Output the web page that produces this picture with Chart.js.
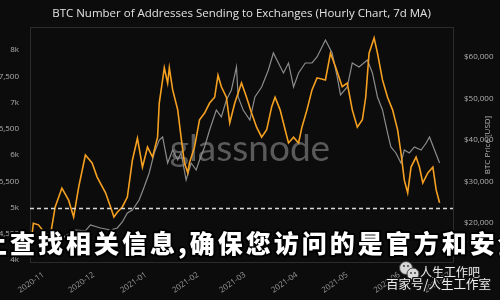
<!DOCTYPE html>
<html>
<head>
<meta charset="utf-8">
<script src="https://cdn.jsdelivr.net/npm/chart.js@4/dist/chart.umd.min.js"></script>
<style>
  html, body { margin: 0; padding: 0; background: #0c0c0c; }
  canvas { display: block; }
</style>
</head>
<body>
<canvas id="chart" width="500" height="300"></canvas>
<script>
// Achsenbereich (Tage)
const firstDay = '2020-10-24'
const lastDay = '2021-07-03'

// Adressen, die an Börsen senden (7d MA)
const addrDates = [
  '2020-10-24', '2020-10-26', '2020-10-29', '2020-11-02', '2020-11-05', '2020-11-08', '2020-11-12',
  '2020-11-16', '2020-11-19', '2020-11-22', '2020-11-26', '2020-11-30', '2020-12-03', '2020-12-08',
  '2020-12-11', '2020-12-13', '2020-12-15', '2020-12-18', '2020-12-21', '2020-12-24', '2020-12-27',
  '2020-12-30', '2021-01-02', '2021-01-05', '2021-01-08', '2021-01-09', '2021-01-11', '2021-01-12',
  '2021-01-14', '2021-01-15', '2021-01-17', '2021-01-20', '2021-01-22', '2021-01-24', '2021-01-26',
  '2021-01-27', '2021-01-30', '2021-02-02', '2021-02-05', '2021-02-08', '2021-02-11', '2021-02-13',
  '2021-02-15', '2021-02-18', '2021-02-20', '2021-02-23', '2021-02-27', '2021-03-02', '2021-03-05',
  '2021-03-08', '2021-03-11', '2021-03-14', '2021-03-17', '2021-03-19', '2021-03-22', '2021-03-25',
  '2021-03-27', '2021-03-30', '2021-04-02', '2021-04-04', '2021-04-07', '2021-04-10', '2021-04-13',
  '2021-04-18', '2021-04-21', '2021-04-24', '2021-04-28', '2021-05-01', '2021-05-04', '2021-05-07',
  '2021-05-10', '2021-05-12', '2021-05-14', '2021-05-17', '2021-05-19', '2021-05-22', '2021-05-25',
  '2021-05-28', '2021-05-31', '2021-06-02', '2021-06-04', '2021-06-06', '2021-06-08', '2021-06-11',
  '2021-06-13', '2021-06-15', '2021-06-18', '2021-06-21', '2021-06-23', '2021-06-25'
]
const addrValues = [
  4150, 4700, 4670, 4510, 4440, 5010, 5370,
  5140, 4820, 5390, 6000, 5850, 5580, 5280,
  5010, 4820, 4910, 5010, 5200, 5900, 6320,
  5770, 6150, 5960, 6340, 6990, 7430, 7660,
  7370, 7660, 7240, 6860, 6340, 5850, 5660,
  5850, 6150, 6670, 6800, 6990, 7100, 7520,
  7300, 7100, 6610, 6990, 7370, 7100, 6800,
  6530, 6340, 6480, 6920, 7100, 6860, 6480,
  6230, 6340, 6230, 6530, 6860, 7240, 7470,
  7430, 7940, 7680, 7300, 7370, 6860, 6530,
  6670, 7100, 7940, 8230, 7940, 7430, 7100,
  6860, 6480, 6040, 5520, 5280, 5770, 5960,
  5770, 5470, 5660, 5770, 5330, 5090
]

// BTC-Preis (USD)
const priceDates = [
  '2020-11-09', '2020-11-14', '2020-11-20', '2020-11-26', '2020-11-29', '2020-12-05', '2020-12-11',
  '2020-12-15', '2020-12-18', '2020-12-21', '2020-12-24', '2020-12-28', '2020-12-31', '2021-01-03',
  '2021-01-06', '2021-01-09', '2021-01-11', '2021-01-14', '2021-01-17', '2021-01-20', '2021-01-22',
  '2021-01-25', '2021-01-28', '2021-01-31', '2021-02-02', '2021-02-05', '2021-02-08', '2021-02-12',
  '2021-02-15', '2021-02-18', '2021-02-21', '2021-02-24', '2021-02-25', '2021-02-28', '2021-03-04',
  '2021-03-07', '2021-03-11', '2021-03-15', '2021-03-18', '2021-03-21', '2021-03-24', '2021-03-27',
  '2021-03-30', '2021-04-02', '2021-04-06', '2021-04-10', '2021-04-13', '2021-04-18', '2021-04-22',
  '2021-04-25', '2021-04-27', '2021-05-01', '2021-05-04', '2021-05-08', '2021-05-13', '2021-05-16',
  '2021-05-19', '2021-05-22', '2021-05-25', '2021-05-27', '2021-05-30', '2021-06-02', '2021-06-04',
  '2021-06-07', '2021-06-10', '2021-06-14', '2021-06-17', '2021-06-19', '2021-06-22', '2021-06-25'
]
const priceValues = [
  15180, 16870, 18310, 18100, 19520, 18800, 18310,
  18800, 20240, 22410, 23130, 25540, 28680, 32050,
  36870, 40000, 40730, 34460, 37590, 35180, 36870,
  30360, 34460, 32770, 35180, 38320, 42410, 47230,
  45550, 49640, 52050, 57600, 50370, 47230, 44820,
  50370, 52780, 56870, 60970, 58560, 56150, 58560,
  52780, 56150, 58560, 58560, 60010, 64100, 60970,
  55190, 50850, 52780, 58560, 57600, 59280, 56150,
  50370, 47230, 41690, 38320, 36870, 34460, 37590,
  36870, 38320, 37590, 39280, 40730, 37590, 34460
]

// Achsen-Ticks
const addrTicks = [4000, 4500, 5000, 5500, 6000, 6500, 7000, 7500, 8000]
const priceTicks = [20000, 30000, 40000, 50000, 60000]
const refLine = 5000

const title = 'BTC Number of Addresses Sending to Exchanges (Hourly Chart, 7d MA)'
const rightTitle = 'BTC Price [USD]'
const watermark = 'glassnode'
const overlayText = '上查找相关信息,确保您访问的是官方和安全的网站'
const badgeTop = '人生工作吧'
const badgeBottom = '百家号/人生工作室'

// Alle Tage als Kategorien
function dayLabels(from, to) {
  const out = []
  const d = new Date(from + 'T00:00:00Z')
  const end = new Date(to + 'T00:00:00Z')
  while (d <= end) {
    out.push(d.toISOString().slice(0, 10))
    d.setUTCDate(d.getUTCDate() + 1)
  }
  return out
}
const labels = dayLabels(firstDay, lastDay)

const zip = (xs, ys) => xs.map((x, i) => ({ x: x, y: ys[i] }))

const decor = {
  id: 'decor',
  beforeDraw(chart) {
    const ctx = chart.ctx
    ctx.save()
    ctx.fillStyle = '#0c0c0c'
    ctx.fillRect(0, 0, chart.width, chart.height)
    ctx.restore()
  },
  beforeDatasetsDraw(chart) {
    const { ctx, chartArea: a } = chart
    ctx.save()
    ctx.strokeStyle = '#2c2c2c'
    ctx.lineWidth = 1
    ctx.strokeRect(a.left + 0.5, a.top + 0.5, a.right - a.left, a.bottom - a.top)
    // Wasserzeichen
    ctx.fillStyle = '#5a5a5a'
    ctx.font = '37px Lato'
    ctx.textAlign = 'center'
    ctx.textBaseline = 'alphabetic'
    ctx.fillText(watermark, 250, 161)
    ctx.restore()
  },
  afterDatasetsDraw(chart) {
    const { ctx, chartArea: a } = chart
    const y = Math.round(chart.scales.y.getPixelForValue(refLine)) + 0.5
    ctx.save()
    ctx.strokeStyle = '#d8d8d8'
    ctx.lineWidth = 1.5
    ctx.setLineDash([4, 3])
    ctx.beginPath()
    ctx.moveTo(a.left, y)
    ctx.lineTo(a.right, y)
    ctx.stroke()
    ctx.restore()
  },
  afterDraw(chart) {
    const { ctx, chartArea: a } = chart
    ctx.save()
    // Titel
    ctx.fillStyle = '#e2e2e2'
    ctx.font = '11.5px "Open Sans"'
    ctx.textAlign = 'center'
    ctx.textBaseline = 'middle'
    ctx.fillText(title, (a.left + a.right) / 2, 14)

    // Rechte Achsenbeschriftung
    ctx.save()
    ctx.translate(488, 145)
    ctx.rotate(-Math.PI / 2)
    ctx.fillStyle = '#b0b0b0'
    ctx.font = '8px "Open Sans"'
    ctx.fillText(rightTitle, 0, 0)
    ctx.restore()

    // Überlagerter Text
    ctx.font = '900 25px "Noto Sans CJK SC"'
    ctx.textAlign = 'left'
    ctx.letterSpacing = '3px'
    ctx.lineJoin = 'round'
    ctx.strokeStyle = '#000'
    ctx.lineWidth = 4
    ctx.strokeText(overlayText, -18, 243)
    ctx.fillStyle = '#ffffff'
    ctx.fillText(overlayText, -18, 243)
    ctx.letterSpacing = '0px'

    // Badge unten rechts
    ctx.fillStyle = '#d8d8d8'
    ctx.strokeStyle = '#444'
    ctx.lineWidth = 1
    ctx.beginPath(); ctx.arc(406, 268, 6.5, 0, Math.PI * 2); ctx.fill(); ctx.stroke()
    ctx.beginPath(); ctx.arc(413, 274, 6, 0, Math.PI * 2); ctx.fill(); ctx.stroke()
    ctx.fillStyle = '#333'
    ;[[404, 266], [408, 266], [411, 273], [415, 273]].forEach(([x, yy]) => {
      ctx.beginPath(); ctx.arc(x, yy, 0.9, 0, Math.PI * 2); ctx.fill()
    })
    ctx.font = '12px "Noto Sans CJK SC"'
    ctx.lineWidth = 2.5
    ctx.strokeStyle = '#111'
    ctx.fillStyle = '#eeeeee'
    ctx.strokeText(badgeTop, 420, 272)
    ctx.fillText(badgeTop, 420, 272)
    ctx.font = '12.5px "Noto Sans CJK SC"'
    ctx.strokeText(badgeBottom, 386, 284)
    ctx.fillText(badgeBottom, 386, 284)
    ctx.restore()
  }
}

new Chart(document.getElementById('chart'), {
  type: 'line',
  data: {
    labels: labels,
    datasets: [
      {
        label: 'Addresses',
        data: zip(addrDates, addrValues),
        yAxisID: 'y',
        borderColor: '#f5a020',
        borderWidth: 1.6,
        pointRadius: 0,
        tension: 0
      },
      {
        label: 'Price',
        data: zip(priceDates, priceValues),
        yAxisID: 'y1',
        borderColor: '#8c8c8c',
        borderWidth: 1.2,
        pointRadius: 0,
        tension: 0
      }
    ]
  },
  options: {
    responsive: false,
    animation: false,
    layout: { padding: { top: 27, left: 0, right: 0, bottom: 0 } },
    plugins: {
      legend: { display: false },
      title: { display: false },
      tooltip: { enabled: false }
    },
    scales: {
      x: {
        type: 'category',
        offset: false,
        grid: { display: false },
        border: { display: false },
        ticks: {
          autoSkip: false,
          minRotation: 35,
          maxRotation: 35,
          padding: 0,
          color: '#9a9a9a',
          font: { size: 8, family: 'Open Sans' },
          callback: function (val) {
            const l = this.getLabelForValue(val)
            return l.endsWith('-01') ? l.slice(0, 7) : ''
          }
        },
        afterFit: (s) => { s.height = 38 }
      },
      y: {
        position: 'left',
        min: 3962,
        max: 8438,
        grid: { display: false },
        border: { display: false },
        afterBuildTicks: (s) => { s.ticks = addrTicks.map(v => ({ value: v })) },
        ticks: {
          padding: 3,
          color: '#b0b0b0',
          font: { size: 8, family: 'Open Sans' },
          callback: (v) => v % 1000 === 0 ? (v / 1000) + 'k' : v.toLocaleString('en-US')
        },
        afterFit: (s) => { s.width = 30 }
      },
      y1: {
        position: 'right',
        min: 10600,
        max: 67230,
        grid: { display: false },
        border: { display: false },
        afterBuildTicks: (s) => { s.ticks = priceTicks.map(v => ({ value: v })) },
        ticks: {
          padding: 3,
          color: '#b0b0b0',
          font: { size: 8, family: 'Open Sans' },
          callback: (v) => '$' + v.toLocaleString('en-US')
        },
        afterFit: (s) => { s.width = 47 }
      }
    }
  },
  plugins: [decor]
})
</script>
</body>
</html>
